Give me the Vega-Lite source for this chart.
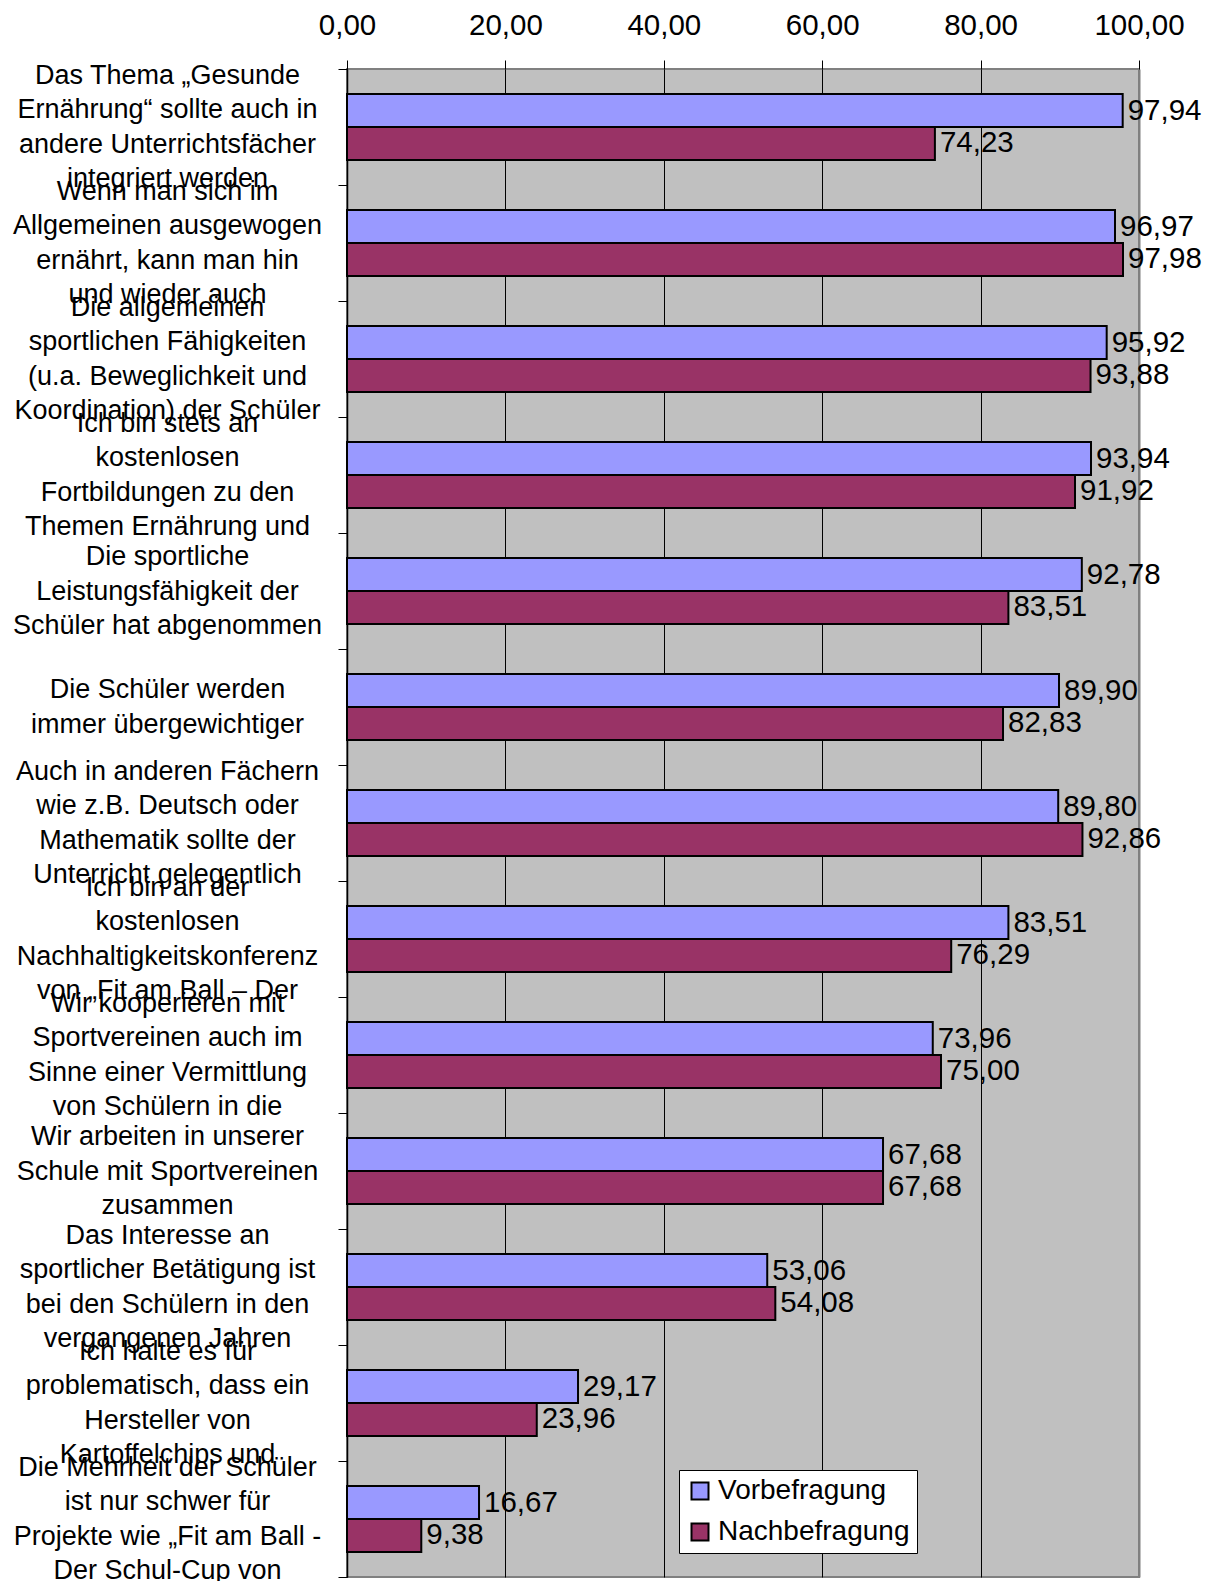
{
  "$schema": "https://vega.github.io/schema/vega-lite/v6.json",
  "autosize": {"type": "none"},
  "padding": {"left": 347, "top": 69, "right": 79, "bottom": 4},
  "width": 792,
  "height": 1508,
  "background": "white",
  "config": {
    "locale": {"number": {"decimal": ",", "thousands": ".", "grouping": [3], "currency": ["", " €"]}},
    "view": {"fill": "#C0C0C0", "stroke": "#808080", "strokeWidth": 2},
    "font": "Liberation Sans"
  },
  "data": {
    "values": [
      {"cat": "Das Thema „Gesunde|Ernährung“ sollte auch in|andere  Unterrichtsfächer|integriert werden", "series": "Vorbefragung", "value": 97.94},
      {"cat": "Das Thema „Gesunde|Ernährung“ sollte auch in|andere  Unterrichtsfächer|integriert werden", "series": "Nachbefragung", "value": 74.23},
      {"cat": "Wenn man sich im|Allgemeinen ausgewogen|ernährt, kann man hin|und wieder auch", "series": "Vorbefragung", "value": 96.97},
      {"cat": "Wenn man sich im|Allgemeinen ausgewogen|ernährt, kann man hin|und wieder auch", "series": "Nachbefragung", "value": 97.98},
      {"cat": "Die allgemeinen|sportlichen Fähigkeiten|(u.a. Beweglichkeit und|Koordination) der Schüler", "series": "Vorbefragung", "value": 95.92},
      {"cat": "Die allgemeinen|sportlichen Fähigkeiten|(u.a. Beweglichkeit und|Koordination) der Schüler", "series": "Nachbefragung", "value": 93.88},
      {"cat": "Ich bin stets an|kostenlosen|Fortbildungen zu den|Themen Ernährung und", "series": "Vorbefragung", "value": 93.94},
      {"cat": "Ich bin stets an|kostenlosen|Fortbildungen zu den|Themen Ernährung und", "series": "Nachbefragung", "value": 91.92},
      {"cat": "Die sportliche|Leistungsfähigkeit der|Schüler hat abgenommen", "series": "Vorbefragung", "value": 92.78},
      {"cat": "Die sportliche|Leistungsfähigkeit der|Schüler hat abgenommen", "series": "Nachbefragung", "value": 83.51},
      {"cat": "Die Schüler werden|immer übergewichtiger", "series": "Vorbefragung", "value": 89.90},
      {"cat": "Die Schüler werden|immer übergewichtiger", "series": "Nachbefragung", "value": 82.83},
      {"cat": "Auch in anderen Fächern|wie z.B. Deutsch oder|Mathematik sollte der|Unterricht gelegentlich", "series": "Vorbefragung", "value": 89.80},
      {"cat": "Auch in anderen Fächern|wie z.B. Deutsch oder|Mathematik sollte der|Unterricht gelegentlich", "series": "Nachbefragung", "value": 92.86},
      {"cat": "Ich bin an der|kostenlosen|Nachhaltigkeitskonferenz|von „Fit am Ball –  Der", "series": "Vorbefragung", "value": 83.51},
      {"cat": "Ich bin an der|kostenlosen|Nachhaltigkeitskonferenz|von „Fit am Ball –  Der", "series": "Nachbefragung", "value": 76.29},
      {"cat": "Wir kooperieren mit|Sportvereinen auch im|Sinne einer Vermittlung|von Schülern in die", "series": "Vorbefragung", "value": 73.96},
      {"cat": "Wir kooperieren mit|Sportvereinen auch im|Sinne einer Vermittlung|von Schülern in die", "series": "Nachbefragung", "value": 75.00},
      {"cat": "Wir arbeiten in unserer|Schule mit Sportvereinen|zusammen", "series": "Vorbefragung", "value": 67.68},
      {"cat": "Wir arbeiten in unserer|Schule mit Sportvereinen|zusammen", "series": "Nachbefragung", "value": 67.68},
      {"cat": "Das Interesse an|sportlicher Betätigung ist|bei den Schülern in den|vergangenen Jahren", "series": "Vorbefragung", "value": 53.06},
      {"cat": "Das Interesse an|sportlicher Betätigung ist|bei den Schülern in den|vergangenen Jahren", "series": "Nachbefragung", "value": 54.08},
      {"cat": "Ich halte es für|problematisch, dass ein|Hersteller von|Kartoffelchips und", "series": "Vorbefragung", "value": 29.17},
      {"cat": "Ich halte es für|problematisch, dass ein|Hersteller von|Kartoffelchips und", "series": "Nachbefragung", "value": 23.96},
      {"cat": "Die Mehrheit der Schüler|ist nur schwer für|Projekte wie „Fit am Ball -|Der Schul-Cup von", "series": "Vorbefragung", "value": 16.67},
      {"cat": "Die Mehrheit der Schüler|ist nur schwer für|Projekte wie „Fit am Ball -|Der Schul-Cup von", "series": "Nachbefragung", "value": 9.38}
    ]
  },
  "encoding": {
    "y": {
      "field": "cat",
      "type": "nominal",
      "sort": null,
      "scale": {"paddingInner": 0, "paddingOuter": 0},
      "axis": {
        "title": null,
        "labelExpr": "split(datum.label, '|')",
        "labelFont": "Liberation Sans",
        "labelFontSize": 27,
        "labelLineHeight": 34.5,
        "labelAlign": "center",
        "labelBaseline": "middle",
        "labelPadding": 171,
        "labelOffset": {
          "condition": [
            {"test": "length(split(datum.value, '|')) === 4", "value": -51.75},
            {"test": "length(split(datum.value, '|')) === 3", "value": -34.5},
            {"test": "length(split(datum.value, '|')) === 2", "value": -17.25}
          ],
          "value": 0
        },
        "labelLimit": 0,
        "labelOverlap": false,
        "labelBound": false,
        "labelColor": "black",
        "tickBand": "extent",
        "tickSize": 9,
        "tickColor": "black",
        "tickWidth": 1,
        "domainColor": "black",
        "domainWidth": 1.5,
        "grid": false
      }
    },
    "yOffset": {
      "field": "series",
      "type": "nominal",
      "sort": ["Vorbefragung", "Nachbefragung"],
      "scale": {"paddingInner": 0, "paddingOuter": 0.76}
    },
    "x": {
      "field": "value",
      "type": "quantitative",
      "scale": {"domain": [0, 100], "nice": false},
      "axis": {
        "orient": "top",
        "title": null,
        "values": [0, 20, 40, 60, 80, 100],
        "format": ".2f",
        "labelFont": "Liberation Sans",
        "labelFontSize": 29.5,
        "labelColor": "black",
        "labelBaseline": "middle",
        "labelPadding": 35,
        "labelFlush": false,
        "tickSize": 9,
        "tickColor": "black",
        "domain": false,
        "grid": true,
        "gridColor": {"condition": {"test": "datum.value === 100", "value": "#808080"}, "value": "black"},
        "gridWidth": {"condition": {"test": "datum.value === 100", "value": 2}, "value": 1}
      }
    }
  },
  "layer": [
    {
      "mark": {"type": "bar", "stroke": "black", "strokeWidth": 2},
      "encoding": {
        "color": {
          "field": "series",
          "type": "nominal",
          "scale": {"domain": ["Vorbefragung", "Nachbefragung"], "range": ["#9999FF", "#993366"]},
          "legend": {
            "title": null,
            "orient": "none",
            "legendX": 332,
            "legendY": 1401,
            "direction": "vertical",
            "fillColor": "white",
            "strokeColor": "black",
            "padding": 7,
            "symbolType": "square",
            "symbolSize": 289,
            "symbolStrokeColor": "black",
            "symbolStrokeWidth": 2,
            "symbolOpacity": 1,
            "labelFont": "Liberation Sans",
            "labelFontSize": 28,
            "labelColor": "black",
            "labelOffset": 4,
            "labelLimit": 400,
            "rowPadding": 13
          }
        }
      }
    },
    {
      "mark": {"type": "text", "align": "left", "baseline": "middle", "dx": 5, "fontSize": 29.5, "font": "Liberation Sans", "color": "black"},
      "encoding": {
        "text": {"field": "value", "type": "quantitative", "format": ".2f"}
      }
    }
  ]
}
